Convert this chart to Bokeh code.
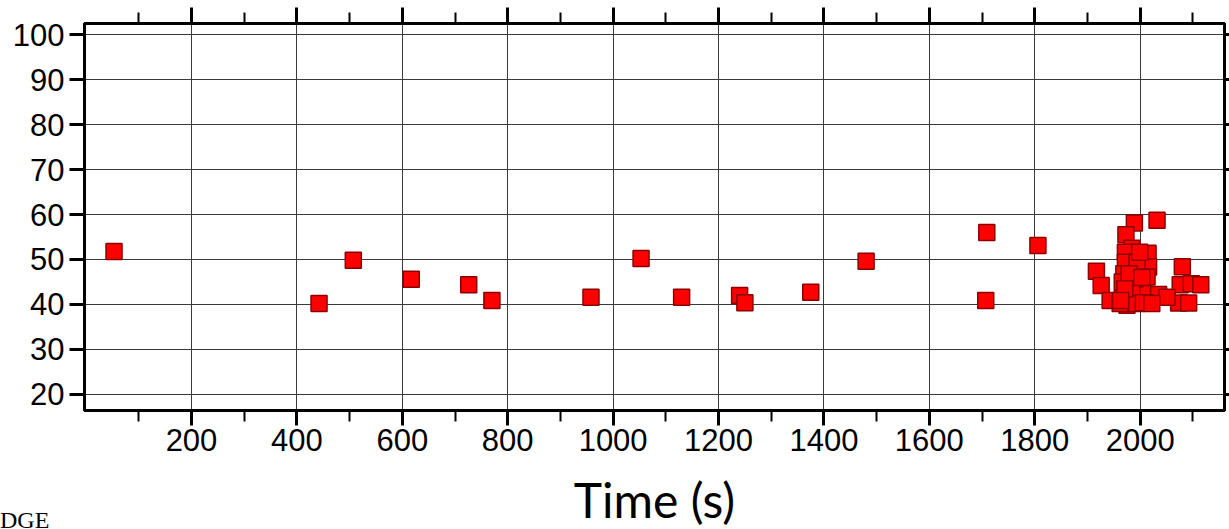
from bokeh.plotting import figure
from bokeh.models import FixedTicker, LinearAxis, Range1d, CustomLabelingPolicy, Div
from bokeh.layouts import column
from bokeh.embed import file_html
from bokeh.resources import INLINE

# Data: time (s) and value
time_s = [53, 442, 507, 617, 726, 770, 958, 1053, 1130, 1240, 1250, 1375, 1480,
          1709, 1707, 1806,
          1917, 1926, 1943, 1989, 2032, 1973, 1984, 2015, 2016, 2080, 2005, 2035,
          2010, 2076, 2097, 2115, 2073, 2092,
          1972, 1972, 1969, 1966, 1966, 1983, 1990, 1994, 1979, 1984, 1975, 1962,
          1993, 1999, 1971, 2013, 2006, 2051, 2022, 2003, 1963]
values = [51.8, 40.2, 49.8, 45.6, 44.4, 40.9, 41.6, 50.2, 41.6, 42.0, 40.4, 42.7, 49.6,
          56.0, 40.9, 53.1,
          47.4, 44.2, 40.9, 58.1, 58.7, 55.5, 52.5, 51.4, 48.3, 48.4, 43.5, 42.2,
          40.3, 44.4, 44.6, 44.4, 40.3, 40.3,
          51.6, 49.4, 46.8, 45.0, 41.3, 40.9, 45.7, 49.4, 46.8, 42.7, 39.8, 40.2,
          40.2, 51.6, 43.5, 46.1, 40.4, 41.6, 40.2, 46.0, 40.9]

x_major = list(range(200, 2001, 200))
x_minor = list(range(100, 2101, 200))
y_major = list(range(20, 101, 10))
x_title = "Time (s)"
corner_text = "DGE"

p = figure(frame_width=1140, frame_height=387, min_border_left=84, min_border_top=23,
           min_border_right=5, min_border_bottom=119,
           x_range=Range1d(-3, 2160), y_range=Range1d(16.4, 102.5),
           output_backend="svg", toolbar_location=None, tools="",
           x_axis_label=x_title)

p.background_fill_color = "white"
p.border_fill_color = "white"
p.outline_line_color = "black"
p.outline_line_width = 3

xt = FixedTicker(ticks=x_major, minor_ticks=x_minor)
yt = FixedTicker(ticks=y_major, minor_ticks=[])

hide_labels = CustomLabelingPolicy(code="""
try {
  for (const i of Array.from(indices)) indices.unset(i)
} catch (e) {
  try { for (const i of Array.from(indices)) indices.set(i, false) } catch (e2) {}
}
return indices
""")

# bottom axis
ax = p.xaxis[0]
ax.ticker = xt
ax.axis_line_width = 3
ax.major_tick_out = 15
ax.major_tick_in = 0
ax.minor_tick_out = 11
ax.minor_tick_in = 0
ax.major_tick_line_width = 3
ax.minor_tick_line_width = 2
ax.major_label_text_font = "Liberation Sans"
ax.major_label_text_font_size = "31px"
ax.major_label_text_color = "black"
ax.major_label_standoff = 3
ax.axis_label_text_font = "Lato"
ax.axis_label_text_font_style = "normal"
ax.axis_label_text_font_size = "48px"
ax.axis_label_text_color = "black"
ax.axis_label_standoff = 17

# left axis
ay = p.yaxis[0]
ay.ticker = yt
ay.axis_line_width = 3
ay.major_tick_out = 15
ay.major_tick_in = 0
ay.minor_tick_line_color = None
ay.major_tick_line_width = 3
ay.major_label_text_font = "Liberation Sans"
ay.major_label_text_font_size = "31px"
ay.major_label_text_color = "black"
ay.major_label_standoff = 5

# top axis (ticks only)
top = LinearAxis(ticker=xt, axis_line_width=3, major_tick_out=16, major_tick_in=0,
                 minor_tick_out=11, minor_tick_in=0, major_tick_line_width=3,
                 minor_tick_line_width=2, major_label_policy=hide_labels,
                 major_label_text_font_size="1px", major_label_standoff=0)
p.add_layout(top, "above")

# right axis (ticks only)
right = LinearAxis(ticker=yt, axis_line_width=3, major_tick_out=5, major_tick_in=0,
                   minor_tick_line_color=None, major_tick_line_width=3,
                   major_label_policy=hide_labels, major_label_text_font_size="1px",
                   major_label_standoff=0)
p.add_layout(right, "right")

p.xgrid.ticker = xt
p.ygrid.ticker = yt
p.xgrid.grid_line_color = "#3a3a3a"
p.ygrid.grid_line_color = "#3a3a3a"
p.xgrid.grid_line_width = 1
p.ygrid.grid_line_width = 1

p.scatter(time_s, values, marker="square", size=16, fill_color="#ff0000",
          line_color="#8b0000", line_width=1.5)

# corner text (zero-height div shifted up over the bottom-left corner)
corner_html = ('<div style="font-family:\'Liberation Serif\',serif;font-size:24px;'
               'line-height:1;white-space:nowrap;color:black">' + corner_text + '</div>')
corner = Div(text=corner_html, width=80, height=0,
             styles={"transform": "translate(-5px, -27px)", "overflow": "visible",
                     "line-height": "1", "white-space": "nowrap"})

layout = column(p, corner, spacing=0)

open("out.html", "w").write(file_html(layout, INLINE))
